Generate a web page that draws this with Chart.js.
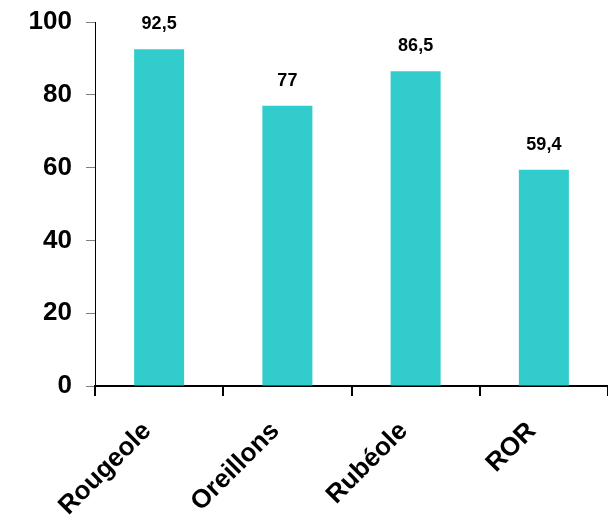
<!DOCTYPE html>
<html>
<head>
<meta charset="utf-8">
<script src="https://cdn.jsdelivr.net/npm/chart.js@4"></script>
<style>
  html, body { margin: 0; padding: 0; background: #fff; overflow: hidden; }
  #wrap { width: 608px; height: 518px; }
</style>
</head>
<body>
<div id="wrap"><canvas id="vaccChart" width="608" height="518"></canvas></div>
<script>
const categories = ['Rougeole', 'Oreillons', 'Rubéole', 'ROR'];
const couverture = [92.5, 77, 86.5, 59.4];
const yTicks = [0, 20, 40, 60, 80, 100];

const FONT = '"Liberation Sans", Arial, sans-serif';

// draw the value above each bar, with a comma as decimal sign
const valueLabels = {
    id: 'valueLabels',
    afterDatasetsDraw(chart) {
        const ctx = chart.ctx;
        const meta = chart.getDatasetMeta(0);
        ctx.save();
        ctx.font = 'bold 18px ' + FONT;
        ctx.fillStyle = '#000';
        ctx.textAlign = 'center';
        ctx.textBaseline = 'alphabetic';
        meta.data.forEach((bar, i) => {
            const txt = String(couverture[i]).replace('.', ',');
            ctx.fillText(txt, bar.x, bar.y - 20);
        });
        ctx.restore();
    }
};

const ctx = document.getElementById('vaccChart').getContext('2d');
new Chart(ctx, {
    type: 'bar',
    data: {
        labels: categories,
        datasets: [{
            data: couverture,
            backgroundColor: '#33CCCC',
            borderWidth: 0,
            barPercentage: 0.39,
            categoryPercentage: 1
        }]
    },
    options: {
        responsive: false,
        animation: false,
        layout: { padding: { top: 22, right: 0, left: 0, bottom: 0 } },
        plugins: {
            legend: { display: false },
            tooltip: { enabled: false }
        },
        scales: {
            y: {
                min: 0,
                max: 100,
                afterFit(scale) {
                    scale.width = 95;
                    scale.paddingTop = 0;
                    scale.paddingBottom = 0;
                },
                afterBuildTicks(scale) { scale.ticks = yTicks.map(v => ({ value: v })); },
                border: { color: '#000', width: 1 },
                grid: { drawOnChartArea: false, drawTicks: true, tickLength: 9, color: '#808080' },
                ticks: {
                    color: '#000',
                    padding: 14,
                    font: { family: FONT, size: 26, weight: 'bold' }
                }
            },
            x: {
                afterFit(scale) {
                    scale.height = 132;
                    scale.paddingLeft = 0;
                    scale.paddingRight = 0;
                },
                border: { color: '#000', width: 2 },
                grid: { drawOnChartArea: false, drawTicks: true, tickLength: 10, color: '#000', lineWidth: 2 },
                ticks: {
                    color: '#000',
                    minRotation: 45,
                    maxRotation: 45,
                    padding: 20,
                    labelOffset: -12,
                    font: { family: FONT, size: 26, weight: 'bold' }
                }
            }
        }
    },
    plugins: [valueLabels]
});
</script>
</body>
</html>
